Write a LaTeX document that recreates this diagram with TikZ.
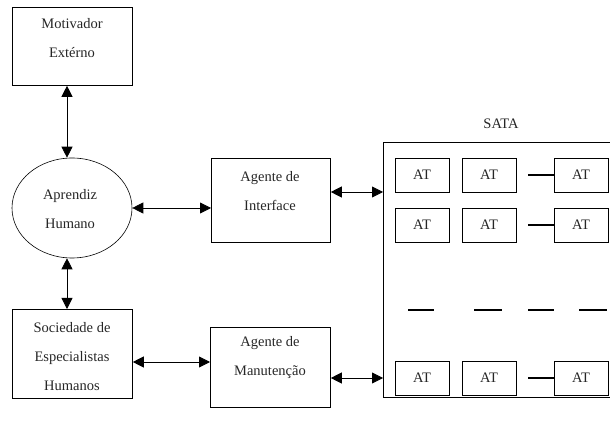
\documentclass[tikz,border=0pt]{standalone}
\usepackage{fontspec}
\setmainfont{Liberation Serif}
\usetikzlibrary{arrows.meta,shapes.geometric}
\begin{document}
\begin{tikzpicture}[x=1pt,y=-1pt,
  boxst/.style={draw,line width=0.8pt,inner sep=0pt,anchor=north west},
  txt/.style={font=\fontsize{14.5}{29}\selectfont,align=center,inner sep=0pt,text=black!85},
  atbox/.style={draw,line width=0.8pt,minimum width=54pt,minimum height=34pt,inner sep=0pt,font=\fontsize{14.5}{15}\selectfont,text=black!85},
  dbl/.style={{Triangle[length=11pt,width=11pt]}-{Triangle[length=11pt,width=11pt]},line width=0.8pt},
  dsh/.style={line width=1.6pt}]
\useasboundingbox (0,0) rectangle (610,427);
\begin{scope}
\clip (0,0) rectangle (610,427);
% left column
\node[boxst,minimum width=120pt,minimum height=78pt] (mot) at (12,7) {};
\node[txt] (tmot) at (72,38) {Motivador\\Extérno};
\node[draw,ellipse,line width=0.6pt,minimum width=120pt,minimum height=100pt,inner sep=0pt] (ell) at (72,208) {};
\node[txt] (tell) at (70,209) {Aprendiz\\Humano};
\node[boxst,minimum width=120pt,minimum height=89pt] (soc) at (12,309) {};
\node[txt] (tsoc) at (72,357) {Sociedade de\\Especialistas\\Humanos};
% agents
\node[boxst,minimum width=119pt,minimum height=84pt] (ai) at (211,158) {};
\node[txt] (tai) at (270,191) {Agente de\\Interface};
\node[boxst,minimum width=120pt,minimum height=80pt] (am) at (210,327) {};
\node[txt] (tam) at (270,358) {Agente de\\Manutenção};
% SATA
\node[boxst,minimum width=260pt,minimum height=255pt] (sata) at (383,142) {};
\node[font=\fontsize{14.5}{15}\selectfont,text=black!85,inner sep=0pt] (tsata) at (501,124) {SATA};
% AT boxes
\node[atbox] (a11) at (422,175) {AT};
\node[atbox] (a12) at (489,175) {AT};
\node[atbox] (a13) at (581,175) {AT};
\node[atbox] (a21) at (422,225) {AT};
\node[atbox] (a22) at (489,225) {AT};
\node[atbox] (a23) at (581,225) {AT};
\node[atbox] (a31) at (422,378) {AT};
\node[atbox] (a32) at (489,378) {AT};
\node[atbox] (a33) at (581,378) {AT};
\draw[dsh] (a13.west) -- ++(-26,0);
\draw[dsh] (a23.west) -- ++(-26,0);
\draw[dsh] (a33.west) -- ++(-26,0);
\coordinate (m1) at (408,310);
\coordinate (m2) at (474,310);
\coordinate (m3) at (528,310);
\coordinate (m4) at (579,310);
\draw[dsh] (m1) -- ++(26,0);
\draw[dsh] (m2) -- ++(28,0);
\draw[dsh] (m3) -- ++(26,0);
\draw[dsh] (m4) -- ++(28,0);
% arrows
\coordinate (ax) at (67,0);
\draw[dbl] (mot.south -| ax) -- (ell.north -| ax);
\draw[dbl] (ell.south -| ax) -- (soc.north -| ax);
\draw[dbl] (ell.east) -- (ell.east -| ai.west);
\coordinate (ys) at (0,362);
\draw[dbl] (soc.east |- ys) -- (am.west |- ys);
\coordinate (y1) at (0,192);
\coordinate (y2) at (0,378);
\draw[dbl] (ai.east |- y1) -- (sata.west |- y1);
\draw[dbl] (am.east |- y2) -- (sata.west |- y2);
\end{scope}
\end{tikzpicture}
\end{document}
